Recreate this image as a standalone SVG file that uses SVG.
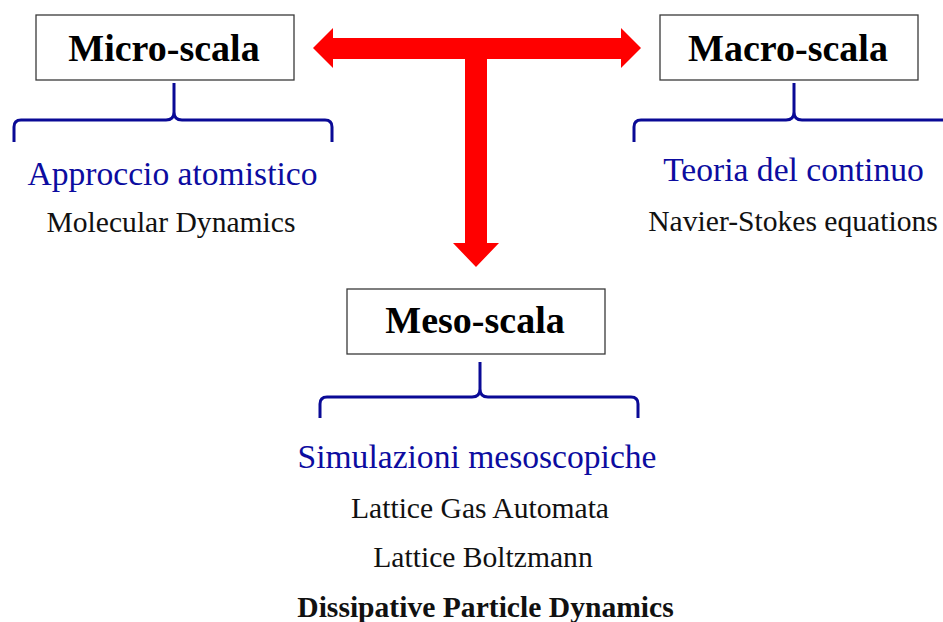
<svg xmlns="http://www.w3.org/2000/svg" width="943" height="622" viewBox="0 0 943 622">
<style>
.box{fill:#fff;stroke:#3a3a3a;stroke-width:1.3}
.title{font-family:"Liberation Serif",serif;font-weight:bold;font-size:38px;fill:#000;text-anchor:middle}
.sub{font-family:"Liberation Serif",serif;font-size:33.6px;fill:#0c0ca0;text-anchor:middle}
.item{font-family:"Liberation Serif",serif;font-size:29.6px;fill:#111;text-anchor:middle}
.bold{font-weight:bold}
.brace{fill:none;stroke:#0a0a96;stroke-width:3}
</style>
<rect width="943" height="622" fill="#fff"/>
<g id="connectors">
<polygon fill="#ff0000" points="313,48 333,28 333,38 621,38 621,28 641,48 621,68 621,59 487,59 487,243 499,243 476,267 453,243 465,243 465,59 333,59 333,68"/>
</g>
<g id="micro">
<rect class="box" x="36" y="15" width="258" height="65"/>
<text class="title" x="164" y="61">Micro-scala</text>
<path class="brace" d="M14,142 V127 Q14,120 21,120 H166 Q174,120 174,112 V83 M174,112 Q174,120 182,120 H325 Q332,120 332,127 V142"/>
<text class="sub" x="172.5" y="185">Approccio atomistico</text>
<text class="item" x="171" y="232">Molecular Dynamics</text>
</g>
<g id="macro">
<rect class="box" x="660" y="15" width="258" height="65"/>
<text class="title" x="788" y="61">Macro-scala</text>
<path class="brace" d="M634,142 V127 Q634,120 641,120 H786 Q794,120 794,112 V83 M794,112 Q794,120 802,120 H960"/>
<text class="sub" x="793.5" y="181">Teoria del continuo</text>
<text class="item" x="793" y="231">Navier-Stokes equations</text>
</g>
<g id="meso">
<rect class="box" x="347" y="289" width="258" height="65"/>
<text class="title" x="475" y="333">Meso-scala</text>
<path class="brace" d="M320,418 V404 Q320,397 327,397 H472 Q480,397 480,389 V362 M480,389 Q480,397 488,397 H631 Q638,397 638,404 V418"/>
<text class="sub" x="477" y="468">Simulazioni mesoscopiche</text>
<text class="item" x="480" y="518">Lattice Gas Automata</text>
<text class="item" x="483" y="567">Lattice Boltzmann</text>
<text class="item bold" x="485.5" y="617">Dissipative Particle Dynamics</text>
</g>
</svg>
